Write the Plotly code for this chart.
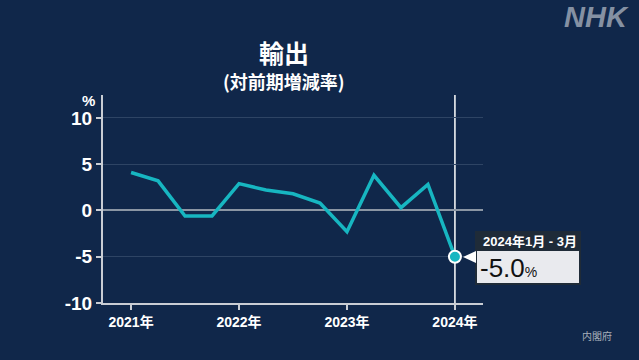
import plotly.graph_objects as go

quarters = ["2021Q1", "2021Q2", "2021Q3", "2021Q4",
            "2022Q1", "2022Q2", "2022Q3", "2022Q4",
            "2023Q1", "2023Q2", "2023Q3", "2023Q4",
            "2024Q1"]
export_change = [4.1, 3.2, -0.6, -0.6, 2.9, 2.2, 1.8, 0.8, -2.3, 3.8, 0.3, 2.8, -5.0]
tick_quarters = ["2021Q1", "2022Q1", "2023Q1", "2024Q1"]
tick_labels = ["2021年", "2022年", "2023年", "2024年"]
y_ticks = [-10, -5, 0, 5, 10]
y_tick_labels = ["-10", "-5", "0", "5", "10"]
highlight_label = "2024年1月 - 3月"

BG = "#10274a"
CYAN = "#17b6c1"
FONT = "Liberation Sans, Noto Sans CJK JP, sans-serif"
JFONT = "Noto Sans CJK JP, sans-serif"

L, R, T, B = 103, 483, 95, 303
W, H = 639, 360


def px(x):
    return (x - L) / (R - L)


def py(y):
    return (B - y) / (B - T)


fig = go.Figure()
fig.add_trace(go.Scatter(
    x=quarters, y=export_change, mode="lines",
    line=dict(color=CYAN, width=3.5), hoverinfo="skip"))
fig.add_trace(go.Scatter(
    x=[quarters[-1]], y=[export_change[-1]], mode="markers",
    marker=dict(color=CYAN, size=12, line=dict(color="white", width=2)),
    hoverinfo="skip"))

shapes = [
    dict(type="line", xref="x", yref="paper", x0=quarters[-1], x1=quarters[-1],
         y0=0, y1=1, line=dict(color="white", width=1.5), layer="below"),
    dict(type="rect", xref="paper", yref="paper", x0=px(475), x1=px(581),
         y0=py(285), y1=py(231), fillcolor="#1f2b38", line=dict(width=0)),
    dict(type="rect", xref="paper", yref="paper", x0=px(477), x1=px(579),
         y0=py(283), y1=py(251), fillcolor="#e9eaee", line=dict(width=0)),
    dict(type="path", xref="paper", yref="paper",
         path=f"M {px(463)} {py(257)} L {px(476)} {py(251)} L {px(476)} {py(263)} Z",
         fillcolor="white", line=dict(width=0)),
]


def ann(text, x, y, font, xanchor="center"):
    return dict(text=text, xref="paper", yref="paper", x=px(x), y=py(y),
                xanchor=xanchor, yanchor="middle", showarrow=False, font=font)


annotations = [
    ann("輸出", 284, 52, dict(family=JFONT, size=25, color="white", weight="bold")),
    ann("(対前期増減率)", 284, 81, dict(family=JFONT, size=18, color="white", weight="bold")),
    ann("%", 88, 100, dict(family=FONT, size=15, color="white", weight="bold")),
    ann("NHK", 596, 17, dict(family=FONT, size=29, color="#8591a3", weight="bold",
                             style="italic")),
    ann("内閣府", 597, 335, dict(family=JFONT, size=10, color="#a7afba")),
    ann(highlight_label, 481, 241,
        dict(family=FONT, size=13, color="white", weight="bold"), xanchor="left"),
    ann(f"{export_change[-1]:.1f}<span style='font-size:14px'>%</span>", 478, 268,
        dict(family=FONT, size=26, color="#111111"), xanchor="left"),
]

fig.update_layout(
    width=W, height=H,
    margin=dict(l=L, r=W - R, t=T, b=H - B, pad=0),
    paper_bgcolor=BG, plot_bgcolor=BG,
    showlegend=False,
    shapes=shapes, annotations=annotations,
    xaxis=dict(type="category", range=[-1.04, 13.04],
               tickvals=tick_quarters, ticktext=tick_labels,
               showgrid=False, zeroline=False,
               showline=True, linecolor="#c9cdd4", linewidth=2,
               ticks="outside", ticklen=5, tickcolor="#c9cdd4", tickwidth=1.5,
               tickfont=dict(family=FONT, size=14, color="white", weight="bold")),
    yaxis=dict(range=[-10, 12.47], tickvals=y_ticks, ticktext=y_tick_labels,
               showgrid=True, gridcolor="#2e4464", gridwidth=1,
               zeroline=True, zerolinecolor="#8b96a4", zerolinewidth=2,
               showline=True, linecolor="#c9cdd4", linewidth=2,
               ticks="outside", ticklen=5, tickcolor="#c9cdd4", tickwidth=1.5,
               tickfont=dict(family=FONT, size=19, color="white", weight="bold")),
)

fig.write_html("out.html", config={"displayModeBar": False},
               post_script="document.body.style.margin='0';document.body.style.background='%s';" % BG)
